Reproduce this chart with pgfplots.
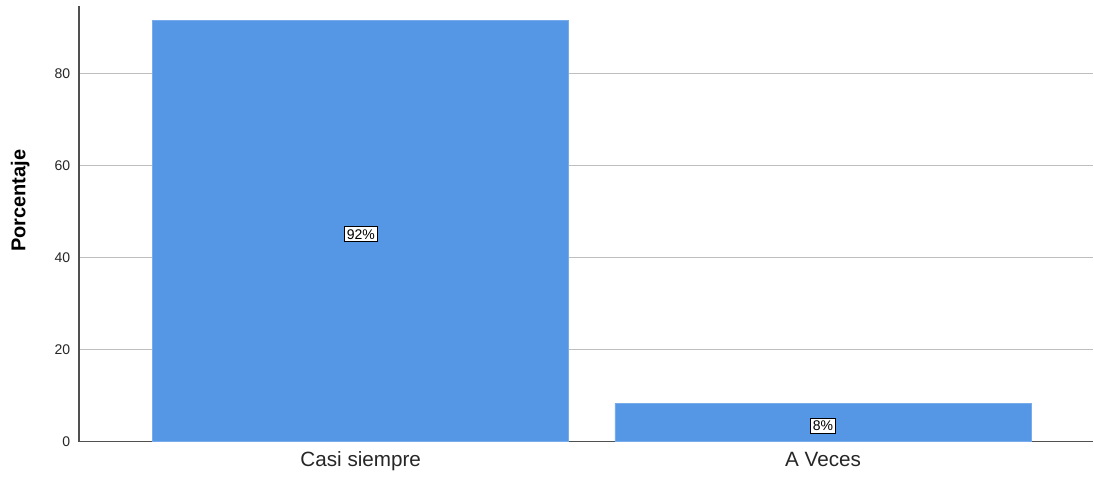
\documentclass[border=0pt]{standalone}
\usepackage{pgfplots}
\pgfplotsset{compat=1.18}
\usepackage{fontspec}
\setmainfont{Liberation Sans}
\definecolor{barblue}{RGB}{85,150,229}
\definecolor{gridgray}{RGB}{190,190,190}
\definecolor{axgray}{RGB}{80,80,80}
\begin{document}
\begin{tikzpicture}
\begin{axis}[
  scale only axis,
  width=761.25pt, height=327pt,
  xmin=-0.6097, xmax=1.585,
  ymin=0, ymax=94.78,
  axis lines=left,
  axis line style={draw=axgray, line width=0.9pt, -},
  ybar, bar width=0.9,
  xtick=data,
  xticklabels={Casi siempre, A Veces},
  ytick={0,20,40,60,80},
  major tick length=0pt,
  ymajorgrids,
  grid style={gridgray, line width=0.8pt},
  tick label style={text=black!85},
  yticklabel style={font=\fontsize{10.5}{12}\selectfont, xshift=-3pt},
  xticklabel style={font=\fontsize{15.5}{18}\selectfont, yshift=-4pt},
  /pgf/number format/assume math mode=true,
  ylabel={\textbf{Porcentaje}},
  ylabel style={font=\fontsize{15}{18}\selectfont, at={(rel axis cs:-0.058,0.553)}, anchor=center},
  clip=false,
  axis on top=false,
  visualization depends on={y/2 \as \halfy},
  nodes near coords={\pgfmathprintnumber[fixed,precision=0]{\pgfplotspointmeta}\%},
  every node near coord/.append style={anchor=center, shift={(axis direction cs:0,-\halfy)}, yshift=-2.5pt,
    fill=white, draw=black, line width=0.7pt, inner sep=2pt, font=\fontsize{10.5}{12}\selectfont, text=black},
]
\addplot[fill=barblue, draw=barblue!80!white, line width=0.5pt] coordinates {(0,91.7) (1,8.3)};
\path (rel axis cs:-0.0778,-0.0803) rectangle (rel axis cs:1,1.0138);
\end{axis}
\end{tikzpicture}
\end{document}
